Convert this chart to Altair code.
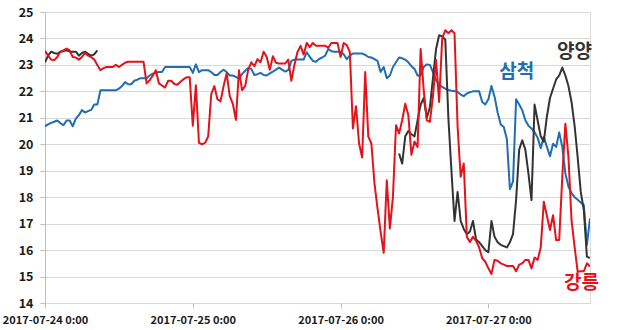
import altair as alt
import pandas as pd

# ---- data (30-minute readings starting 2017-07-24 00:00) ----
start = "2017-07-24 00:00"
n_points = 178

samcheok = [
    20.68, 20.75, 20.81, 20.85, 20.9, 20.8, 20.72, 20.9, 20.9, 20.68,
    20.97, 21.1, 21.29, 21.2, 21.25, 21.3, 21.5, 21.5, 22.04, 22.04,
    22.04, 22.04, 22.04, 22.04, 22.1, 22.2, 22.35, 22.27, 22.27, 22.4,
    22.44, 22.5, 22.5, 22.5, 22.6, 22.67, 22.7, 22.73, 22.73, 22.92,
    22.92, 22.92, 22.92, 22.92, 22.92, 22.92, 22.92, 22.92, 22.7, 23.02,
    22.73, 22.8, 22.8, 22.8, 22.73, 22.62, 22.62, 22.73, 22.82, 22.73,
    22.6, 22.6, 22.55, 22.48, 22.65, 22.78, 22.88, 22.85, 22.62, 22.65,
    22.7, 22.62, 22.6, 22.68, 22.75, 22.82, 22.9, 22.82, 22.75, 22.8,
    23.15, 23.2, 23.2, 23.2, 23.2, 23.48, 23.3, 23.15, 23.12, 23.22,
    23.28, 23.35, 23.6, 23.52, 23.5, 23.5, 23.5, 23.4, 23.22, 23.35,
    23.43, 23.43, 23.43, 23.43, 23.38, 23.3, 23.28, 23.22, 23.15, 22.73,
    22.92, 22.5, 22.6, 22.92, 23.1, 23.28, 23.25, 23.2, 23.1, 22.95,
    22.85, 22.6, 22.6, 22.92, 23.02, 23.0, 22.73, 22.42, 22.25, 22.17,
    22.1, 22.05, 22.02, 22.01, 21.98, 21.88, 21.82, 21.92, 21.97, 22.0,
    22.0, 22.0, 21.6, 21.5, 21.7, 22.2, 21.8, 21.2, 20.75, 20.65,
    20.2, 18.3, 18.6, 21.7, 21.5, 21.29, 20.91, 20.7, 20.6, 20.45,
    20.25, 19.85, 20.28, 19.9, 19.55, 20.02, 19.9, 20.45, 19.9, 18.9,
    18.4, 18.15, 18.0, 17.9, 17.8, 17.7, 16.2, 17.2,
]

gangneung = [
    23.53, 23.35, 23.2, 23.18, 23.3, 23.5, 23.55, 23.62, 23.55, 23.3,
    23.28, 23.2, 23.3, 23.45, 23.35, 23.3, 23.2, 23.0, 22.8, 22.88,
    22.92, 22.92, 22.92, 23.0, 22.92, 23.0, 23.08, 23.12, 23.12, 23.12,
    23.12, 23.12, 23.12, 22.3, 22.42, 22.6, 22.8, 22.3, 22.22, 22.15,
    22.4, 22.4, 22.28, 22.25, 22.36, 22.46, 22.53, 22.53, 20.7, 22.23,
    20.05, 20.0, 20.05, 20.3, 21.9, 22.2, 21.7, 21.62, 22.2, 22.68,
    21.82, 21.53, 20.92, 22.8, 22.05, 22.2, 22.82, 23.1, 22.95, 23.22,
    23.1, 23.5, 23.3, 22.82, 23.33, 23.08, 23.05, 23.05, 23.05, 23.2,
    22.4, 23.0, 23.49, 23.72, 23.39, 23.83, 23.67, 23.83, 23.72, 23.72,
    23.72, 23.72, 23.65, 23.83, 23.83, 23.83, 23.3, 23.83, 23.75, 23.49,
    20.6, 21.44, 20.03, 19.5, 22.73, 20.29, 20.03, 18.52, 17.57, 16.69,
    15.9, 18.64, 16.82, 18.01, 20.72, 20.41, 20.91, 21.53, 21.1, 19.6,
    20.1, 19.9, 23.6, 22.04, 20.91, 20.85, 21.83, 23.19, 21.6, 24.0,
    24.31, 24.2, 24.31, 24.2, 20.66, 18.77, 19.27, 16.5, 16.31, 16.5,
    16.35, 16.1, 15.69, 15.56, 15.31, 15.1, 15.63, 15.6, 15.5, 15.45,
    15.4, 15.4, 15.4, 15.2, 15.45, 15.5, 15.63, 15.63, 15.31, 15.72,
    15.63, 16.1, 17.83, 17.3, 16.76, 17.32, 16.38, 16.38, 18.77, 20.78,
    19.52, 17.13, 16.12, 15.18, 15.2, 15.2, 15.5, 15.38,
]

# 양양: two recorded stretches (indices 0-17 and 115-177)
yangyang_part1_start = 0
yangyang_part1 = [23.1, 23.35, 23.5, 23.45, 23.42, 23.5, 23.52, 23.55, 23.5,
                  23.5, 23.5, 23.35, 23.45, 23.5, 23.42, 23.35, 23.4, 23.55]
yangyang_part2_start = 115
yangyang_part2 = [
    19.65, 19.27, 20.3, 20.5, 20.38, 20.3, 20.9, 21.5, 21.75, 21.0,
    21.4, 22.5, 23.6, 24.12, 24.08, 23.95, 21.0, 19.0, 17.1, 18.2,
    17.1, 16.8, 16.6, 16.7, 17.1, 16.4, 16.3, 16.15, 16.0, 15.92,
    17.1, 16.5, 16.3, 16.2, 16.15, 16.1, 16.3, 16.6, 17.9, 19.8,
    20.15, 19.8, 18.9, 17.89, 21.5, 20.9, 20.3, 20.1, 21.05, 21.75,
    22.1, 22.45, 22.6, 22.9, 22.6, 22.2, 21.6, 20.7, 19.5, 18.2,
    17.5, 15.75, 15.7,
]

label_names = ["양양", "삼척", "강릉"]
label_times = ["2017-07-27 14:00", "2017-07-27 04:36", "2017-07-27 15:08"]
label_values = [23.48, 22.72, 14.75]

tick_days = ["2017-07-24", "2017-07-25", "2017-07-26", "2017-07-27"]
y_ticks = list(range(14, 26))

# ---- frames ----
times = pd.date_range(start, periods=n_points, freq="30min")
df_blue = pd.DataFrame({"time": times, "value": samcheok})
df_red = pd.DataFrame({"time": times, "value": gangneung})
df_black = pd.concat([
    pd.DataFrame({"time": times[yangyang_part1_start:yangyang_part1_start + len(yangyang_part1)],
                  "value": yangyang_part1, "seg": 1}),
    pd.DataFrame({"time": times[yangyang_part2_start:yangyang_part2_start + len(yangyang_part2)],
                  "value": yangyang_part2, "seg": 2}),
])
df_labels = pd.DataFrame({"name": label_names, "time": pd.to_datetime(label_times),
                          "value": label_values})

RED = "#e3121b"
BLUE = "#1f6db3"
BLACK = "#333333"
FONT = "Noto Sans CJK KR"

x_scale = alt.Scale(domain=[alt.DateTime(year=2017, month=7, date=24, hours=0),
                            alt.DateTime(year=2017, month=7, date=27, hours=16, minutes=30)])
y_scale = alt.Scale(domain=[14, 25], nice=False)

x_axis = alt.Axis(
    values=[alt.DateTime(year=2017, month=7, date=int(d[-2:]), hours=0) for d in tick_days],
    labelExpr="timeFormat(datum.value, '%Y-%m-%d') + ' 0:00'",
    grid=False, domain=False, ticks=True, tickColor="#bfbfbf", tickSize=5,
    labelFontWeight="bold", labelFontSize=11, labelColor="#1a1a1a", labelFont=FONT,
    labelPadding=6, labelFlush=False, labelOverlap=False, title=None,
)
y_axis = alt.Axis(
    values=y_ticks, grid=True, gridColor="#d9d9d9", domainColor="#bfbfbf",
    tickColor="#bfbfbf", tickSize=5, labelFontWeight="bold", labelFontSize=12.5,
    labelColor="#1a1a1a", labelFont=FONT, labelPadding=7, labelOverlap=False,
    labelFlush=False, title=None,
)

base_x = alt.X("time:T", scale=x_scale, axis=x_axis)
base_y = alt.Y("value:Q", scale=y_scale, axis=y_axis)

line_kw = dict(strokeWidth=2, strokeJoin="round", clip=True)

blue_line = alt.Chart(df_blue).mark_line(color=BLUE, **line_kw).encode(x=base_x, y=base_y)
black_line = alt.Chart(df_black).mark_line(color=BLACK, **line_kw).encode(
    x=base_x, y=base_y, detail="seg:N")
red_line = alt.Chart(df_red).mark_line(color=RED, **line_kw).encode(x=base_x, y=base_y)

labels = alt.Chart(df_labels).mark_text(
    font=FONT, fontSize=19, fontWeight="bold", align="center", baseline="middle"
).encode(
    x=base_x,
    y=base_y,
    text="name:N",
    color=alt.Color("name:N", scale=alt.Scale(domain=label_names, range=[BLACK, BLUE, RED]),
                    legend=None),
)

chart = alt.layer(blue_line, black_line, red_line, labels).properties(
    width=545, height=291,
    autosize=alt.AutoSizeParams(type="none"),
    padding={"left": 45, "top": 12, "right": 45, "bottom": 27},
).configure_view(strokeWidth=0).configure(background="white")

chart.save("out.html", embed_options={"renderer": "svg", "actions": False})
